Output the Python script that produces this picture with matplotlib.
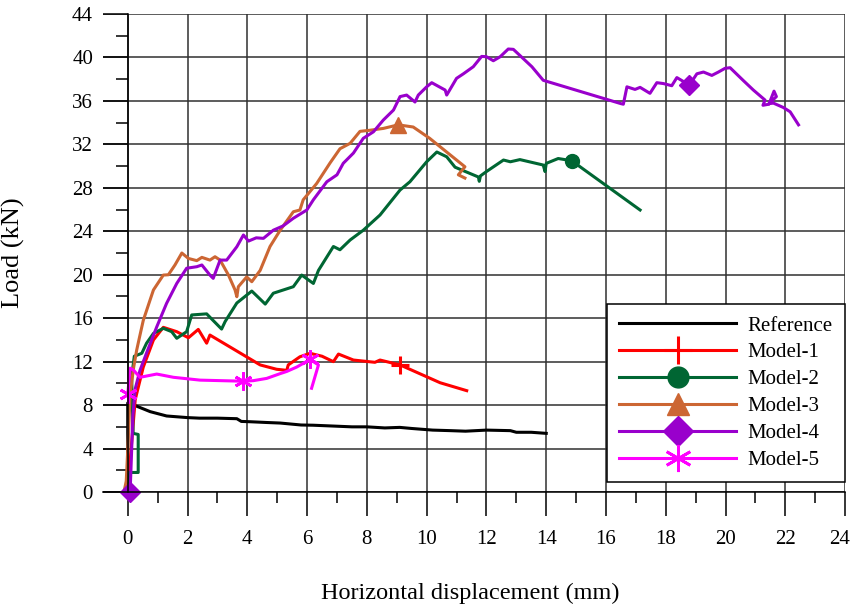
import matplotlib
matplotlib.use("Agg")
import matplotlib.pyplot as plt
from matplotlib.ticker import MultipleLocator, FuncFormatter

plt.rcParams['font.family'] = ['Liberation Serif', 'DejaVu Serif']

# Reference (black)
ref_x = [0, 0, 0.3, 0.75, 1.3, 2.0, 2.4, 3.0, 3.65, 3.8, 4.1, 4.65, 5.1, 5.8, 6.2, 6.9,
         7.5, 8.0, 8.6, 9.1, 9.5, 10.2, 10.8, 11.3, 12.0, 12.8, 13.0, 13.5, 14.0]
ref_y = [0, 8.2, 7.9, 7.4, 7.0, 6.85, 6.8, 6.8, 6.75, 6.5, 6.47, 6.4, 6.35, 6.17, 6.15, 6.07,
         6.0, 6.0, 5.9, 5.95, 5.85, 5.7, 5.65, 5.6, 5.7, 5.65, 5.5, 5.5, 5.4]

# Model-1 (red)
m1_x = [0, 0.1, 0.25, 0.52, 0.86, 1.19, 1.64, 2.03, 2.36, 2.64, 2.75, 4.43, 4.98, 5.32,
        5.37, 5.76, 6.1, 6.5, 6.88, 7.05, 7.55, 8.27, 8.44, 9.11, 10.45, 11.34]
m1_y = [0, 3.5, 8.5, 11.5, 14.0, 15.16, 14.76, 14.2, 14.97, 13.7, 14.45, 11.7, 11.3, 11.2,
        11.7, 12.45, 12.77, 12.5, 12.0, 12.7, 12.15, 11.94, 12.15, 11.7, 10.06, 9.33]
m1_marks = [23]

# Model-2 (green)
m2_x = [0, 0.05, 0.05, 0.35, 0.35, 0.18, 0.13, 0.22, 0.47, 0.63, 0.86, 1.19, 1.47, 1.64,
        1.97, 2.14, 2.64, 3.14, 3.26, 3.65, 4.15, 4.6, 4.87, 5.54, 5.82, 6.21, 6.38, 6.88,
        7.1, 7.44, 7.88, 8.44, 9.11, 9.44, 10.0, 10.34, 10.67, 10.95, 11.73, 11.76, 11.8,
        12.0, 12.57, 12.8, 13.12, 13.9, 13.96, 14.0, 14.4, 14.85, 17.14]
m2_y = [0, 0.1, 1.8, 1.8, 5.3, 5.4, 10.6, 12.5, 12.77, 13.7, 14.6, 15.07, 14.76, 14.15,
        14.76, 16.3, 16.4, 15.0, 15.7, 17.4, 18.5, 17.3, 18.3, 18.9, 19.97, 19.2, 20.4, 22.6,
        22.3, 23.2, 24.1, 25.5, 27.8, 28.56, 30.4, 31.3, 30.86, 29.9, 29.0, 28.6, 29.1,
        29.5, 30.56, 30.4, 30.6, 30.1, 29.5, 30.25, 30.7, 30.5, 25.96]
m2_marks = [49]

# Model-3 (orange)
m3_x = [0, -0.15, -0.05, 0.02, 0.08, 0.2, 0.3, 0.39, 0.52, 0.75, 0.86, 1.19, 1.36, 1.58,
        1.81, 2.03, 2.31, 2.48, 2.75, 2.92, 3.09, 3.37, 3.59, 3.65, 3.7, 3.98, 4.15, 4.43,
        4.76, 5.1, 5.54, 5.76, 5.87, 6.32, 6.77, 7.1, 7.44, 7.77, 8.1, 8.55, 9.05, 9.55,
        10.1, 11.28, 11.06, 11.28]
m3_y = [0, -0.3, 1.0, 5.0, 9.0, 11.5, 13.07, 14.2, 15.8, 17.7, 18.6, 19.97, 20.0, 20.9,
        22.0, 21.5, 21.3, 21.6, 21.35, 21.66, 21.35, 19.97, 18.6, 17.98, 18.9, 19.8, 19.36, 20.4,
        22.6, 24.1, 25.8, 25.96, 26.9, 28.4, 30.3, 31.6, 32.1, 33.2, 33.3, 33.47, 33.8, 33.6,
        32.56, 29.94, 29.2, 28.9]
m3_marks = [40]

# Model-4 (purple)
m4_x = [0.08, 0.12, 0.17, 0.25, 0.41, 0.63, 0.97, 1.3, 1.64, 1.97, 2.31, 2.48, 2.75, 2.86,
        3.09, 3.31, 3.65, 3.87, 4.04, 4.3, 4.54, 4.87, 5.2, 5.54, 5.99, 6.21, 6.66, 7.0,
        7.21, 7.55, 7.88, 8.22, 8.55, 8.89, 9.11, 9.33, 9.61, 9.72, 10.0, 10.17, 10.62,
        10.67, 11.0, 11.23, 11.56, 11.84, 12.0, 12.23, 12.46, 12.73, 12.9, 13.23, 13.52,
        13.9, 16.5, 16.58, 16.7, 16.97, 17.14, 17.47, 17.7, 17.92, 18.2, 18.37, 18.79,
        19.04, 19.26, 19.54, 19.76, 19.98, 20.15, 20.6, 20.93, 21.32, 21.25, 21.45, 21.62,
        21.7, 21.45, 21.6, 21.93, 22.16, 22.44]
m4_y = [0, 3.0, 7.0, 9.5, 11.2, 12.8, 15.2, 17.37, 19.2, 20.6, 20.74, 20.9, 19.97, 19.67,
        21.35, 21.35, 22.58, 23.66, 23.1, 23.4, 23.35, 24.1, 24.5, 25.2, 25.96, 26.9, 28.56, 29.2,
        30.26, 31.2, 32.56, 33.16, 34.24, 35.16, 36.4, 36.54, 35.9, 36.54, 37.3, 37.68, 37.0,
        36.54, 38.08, 38.5, 39.15, 40.1, 40.07, 39.7, 40.07, 40.78, 40.75, 39.9, 39.15,
        37.9, 35.75, 35.7, 37.3, 37.06, 37.25, 36.7, 37.68, 37.6, 37.4, 38.15, 37.46,
        38.5, 38.66, 38.35, 38.66, 39.0, 39.06, 37.86, 37.0, 36.08, 35.6, 35.7, 36.9,
        36.4, 35.75, 35.8, 35.4, 35.0, 33.8]
m4_marks = [0, 64]

# Model-5 (magenta)
m5_x = [0, 0.08, 0.19, 0.41, 0.97, 1.53, 2.42, 3.87, 4.2, 4.65, 5.1, 5.32, 5.65, 6.1, 6.38, 6.15]
m5_y = [9.0, 11.4, 11.23, 10.56, 10.86, 10.56, 10.3, 10.2, 10.25, 10.46, 10.9, 11.1, 11.5,
        12.2, 11.7, 9.55]
m5_marks = [0, 7, 13]

x_max = 24

fig = plt.figure(figsize=(8.53, 6.1), dpi=100)
ax = fig.add_axes([0.1208, 0.1934, 0.870, 0.7836])

lw = 2.2
ax.plot(ref_x, ref_y, color='black', lw=lw, label='Reference', solid_joinstyle='round')
ax.plot(m1_x, m1_y, color='#ff0000', lw=lw, marker='+', ms=13, mew=2.2,
        markevery=m1_marks, label='Model-1', solid_joinstyle='round')
ax.plot(m2_x, m2_y, color='#006633', lw=lw, marker='o', ms=10,
        markevery=m2_marks, label='Model-2', solid_joinstyle='round')
ax.plot(m3_x, m3_y, color='#cc6633', lw=lw, marker='^', ms=11,
        markevery=m3_marks, label='Model-3', solid_joinstyle='round')
ax.plot(m4_x, m4_y, color='#9900cc', lw=lw, marker='D', ms=10,
        markevery=m4_marks, label='Model-4', solid_joinstyle='round', clip_on=False)
ax.plot(m5_x, m5_y, color='#ff00ff', lw=lw, marker=(6, 2, 0), ms=13, mew=2,
        markevery=m5_marks, label='Model-5', solid_joinstyle='round')

ax.set_xlim(-0.826, x_max)
ax.set_ylim(0, 44)
ax.spines['left'].set_position(('data', 0))
ax.spines['top'].set_visible(False)
ax.spines['right'].set_visible(False)
for s in ['left', 'bottom']:
    ax.spines[s].set_linewidth(1.1)

ax.xaxis.set_major_locator(MultipleLocator(2))
ax.xaxis.set_minor_locator(MultipleLocator(1))
ax.yaxis.set_major_locator(MultipleLocator(4))
ax.yaxis.set_minor_locator(MultipleLocator(2))
# last x label is drawn separately, nudged left so it stays on the canvas
ax.xaxis.set_major_formatter(FuncFormatter(lambda v, p: '' if v >= x_max else f'{v:g}'))
ax.tick_params(axis='x', which='major', length=17, width=1.1, pad=10, labelsize=15)
ax.tick_params(axis='x', which='minor', length=8, width=1.1)
ax.tick_params(axis='y', which='major', length=18, width=1.1, pad=7, labelsize=15)
ax.tick_params(axis='y', which='minor', length=9, width=1.1)
ax.grid(True, which='major', color='#303030', lw=1.1)
ax.set_axisbelow(True)
ax.annotate(f'{x_max:g}', xy=(x_max, 0), xytext=(-4, -27), textcoords='offset points',
            ha='center', va='top', fontsize=15, annotation_clip=False)

ax.set_xlabel('Horizontal displacement (mm)', fontsize=17.5)
ax.xaxis.set_label_coords(0.495, -0.19)
ax.set_ylabel('Load (kN)', fontsize=19)
ax.yaxis.set_label_coords(-0.105, 0.5)

leg = ax.legend(loc='lower right', bbox_to_anchor=(1.0, 0.02), fontsize=15,
                frameon=True, fancybox=False, edgecolor='black', framealpha=1,
                handlelength=5.6, handletextpad=0.55, labelspacing=0.35,
                borderpad=0.6, markerscale=1.5, borderaxespad=0)
leg.get_frame().set_linewidth(1.1)

fig.savefig('out.png', dpi=100)
